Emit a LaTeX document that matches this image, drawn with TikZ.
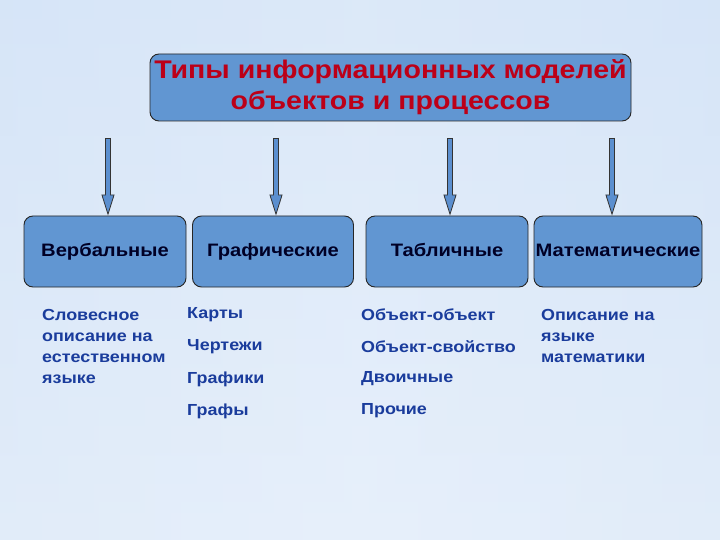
\documentclass[tikz,border=0pt]{standalone}
\usepackage{fontspec}
\setmainfont[FakeStretch=1.12]{Liberation Sans}
\usepackage{tikz}
\usetikzlibrary{arrows.meta}
\definecolor{boxblue}{HTML}{6196D2}
\definecolor{titlered}{HTML}{BC0018}
\definecolor{itemblue}{HTML}{1A3C9C}
\definecolor{bgblue}{HTML}{A2C4EE}
\definecolor{arrowblue}{HTML}{5B8FCF}
\pgfdeclarehorizontalshading{slidebg}{100bp}{color(0bp)=(bgblue); color(20bp)=(white!70!bgblue); color(50bp)=(white!88!bgblue); color(80bp)=(white!70!bgblue); color(100bp)=(bgblue)}
\tikzset{
  titlebox/.style={draw=black!85, fill=boxblue, rounded corners=9pt, line width=0.9pt,
    minimum width=481pt, minimum height=67pt, inner sep=0pt, align=center,
    text=titlered, font=\bfseries\fontsize{25.5}{31}\selectfont},
  typebox/.style={draw=black!85, fill=boxblue, rounded corners=9pt, line width=0.9pt,
    minimum height=71pt, inner sep=0pt, text=black!85!blue,
    text height=13pt, text depth=4pt,
    font=\bfseries\fontsize{18}{20}\selectfont},
  item/.style={anchor=west, inner sep=0pt, align=left, text=itemblue,
    font=\bfseries\fontsize{16}{21}\selectfont},
  fatarrow/.style={line width=6.5pt, draw=black!80,
    -{Triangle[length=21pt, width=13pt, line width=0.8pt, fill=arrowblue]},
    postaction={draw=arrowblue, line width=4.6pt, -, shorten >=19pt, shorten <=0.9pt}}
}
\begin{document}
\begin{tikzpicture}[x=1pt, y=-1pt]
  % Background of the slide
  \useasboundingbox (0,0) rectangle (720,540);
  \shade[shading=slidebg] (0,0) rectangle (720,540);
  \shade[top color=bgblue!55!white, middle color=white, bottom color=bgblue!35!white, opacity=0.6] (0,0) rectangle (720,540);

  % Title
  \node[titlebox] (title) at (390.5,87.5) {Типы информационных моделей\\объектов и процессов};

  % Four types
  \node[typebox, minimum width=162pt] (verb) at (105,251.5) {Вербальные};
  \node[typebox, minimum width=161pt] (graph) at (273,251.5) {Графические};
  \node[typebox, minimum width=162pt] (tab) at (447,251.5) {Табличные};
  \node[typebox, minimum width=168pt] (math) at (618,251.5) {Математические};

  % Arrows down to the types
  \foreach \x/\b in {108/verb, 276/graph, 450/tab, 612/math} {
    \coordinate (top-\b) at (\x,138);
    \draw[fatarrow] (top-\b) -- (top-\b |- \b.north);
  }

  % Examples under each type
  \node[item] (verbtext) at (42,346.5) {Словесное\\описание на\\естественном\\языке};
  \foreach \y/\t [count=\i] in {315/Карты, 347/Чертежи, 379/Графики, 411/Графы} {
    \node[item] (graph-\i) at (187,\y) {\t};
  }
  \foreach \y/\t [count=\i] in {315/Объект-объект, 347/Объект-свойство, 379/Двоичные, 411/Прочие} {
    \node[item] (tab-\i) at (361,\y) {\t};
  }
  \node[item] (mathtext) at (541,336) {Описание на\\языке\\математики};
\end{tikzpicture}
\end{document}
